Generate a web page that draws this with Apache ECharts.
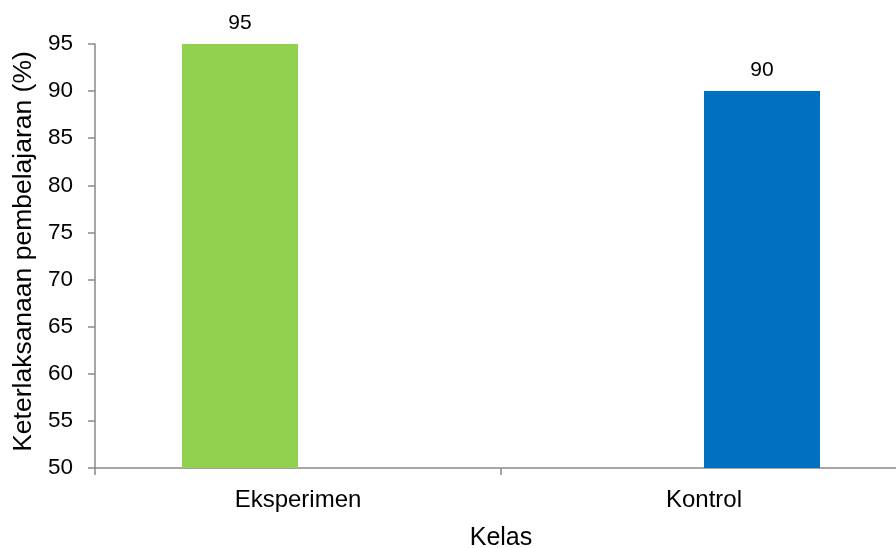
<!DOCTYPE html>
<html>
<head>
<meta charset="utf-8">
<style>
  html, body { margin: 0; padding: 0; background: #fff; }
  #chart { width: 896px; height: 548px; }
</style>
<script src="https://cdn.jsdelivr.net/npm/echarts@6/dist/echarts.min.js"></script>
</head>
<body>
<div id="chart"></div>
<script>
// Class categories and the learning implementation percentage for each
const categories = ['Eksperimen', 'Kontrol'];
const eksperimenValues = [95, null];
const kontrolValues = [null, 90];

const yMin = 50;
const yMax = 95;
const yInterval = 5;

const xTitle = 'Kelas';
const yTitle = 'Keterlaksanaan pembelajaran (%)';

const FONT = '"Liberation Sans", Arial, sans-serif';
const AXIS_COLOR = '#898989';

const chart = echarts.init(document.getElementById('chart'), null, { renderer: 'canvas' });

const valueLabel = {
  show: true,
  position: 'top',
  distance: 10,
  color: '#000',
  fontFamily: FONT,
  fontSize: 21
};

chart.setOption({
  animation: false,
  backgroundColor: '#fff',
  // plot runs slightly past the right edge so the last category boundary is off-canvas
  grid: {
    left: 95, top: 44, width: 812, height: 424,
    containLabel: false,
    outerBoundsMode: 'none'
  },
  xAxis: {
    type: 'category',
    data: categories,
    name: xTitle,
    nameLocation: 'middle',
    nameGap: 58,
    nameTextStyle: { color: '#000', fontFamily: FONT, fontSize: 25 },
    axisLine: { lineStyle: { color: AXIS_COLOR, width: 1.5 } },
    axisTick: { show: true, length: 7, lineStyle: { color: AXIS_COLOR, width: 1.5 } },
    axisLabel: { color: '#000', fontFamily: FONT, fontSize: 24, margin: 20 },
    splitLine: { show: false }
  },
  yAxis: {
    type: 'value',
    min: yMin,
    max: yMax,
    interval: yInterval,
    name: yTitle,
    nameLocation: 'middle',
    nameGap: 54,
    nameTextStyle: { color: '#000', fontFamily: FONT, fontSize: 26.5, padding: [0, 0, 0, 9] },
    axisLine: { show: true, lineStyle: { color: AXIS_COLOR, width: 1.5 } },
    axisTick: { show: true, length: 7, lineStyle: { color: AXIS_COLOR, width: 1.5 } },
    axisLabel: { color: '#000', fontFamily: FONT, fontSize: 22.5, margin: 22 },
    splitLine: { show: false }
  },
  series: [
    {
      name: 'Eksperimen',
      type: 'bar',
      data: eksperimenValues,
      barWidth: 116,
      barGap: '0%',
      itemStyle: { color: '#92D050' },
      label: valueLabel
    },
    {
      name: 'Kontrol',
      type: 'bar',
      data: kontrolValues,
      barWidth: 116,
      barGap: '0%',
      itemStyle: { color: '#0070C0' },
      label: valueLabel
    }
  ]
});
</script>
</body>
</html>
